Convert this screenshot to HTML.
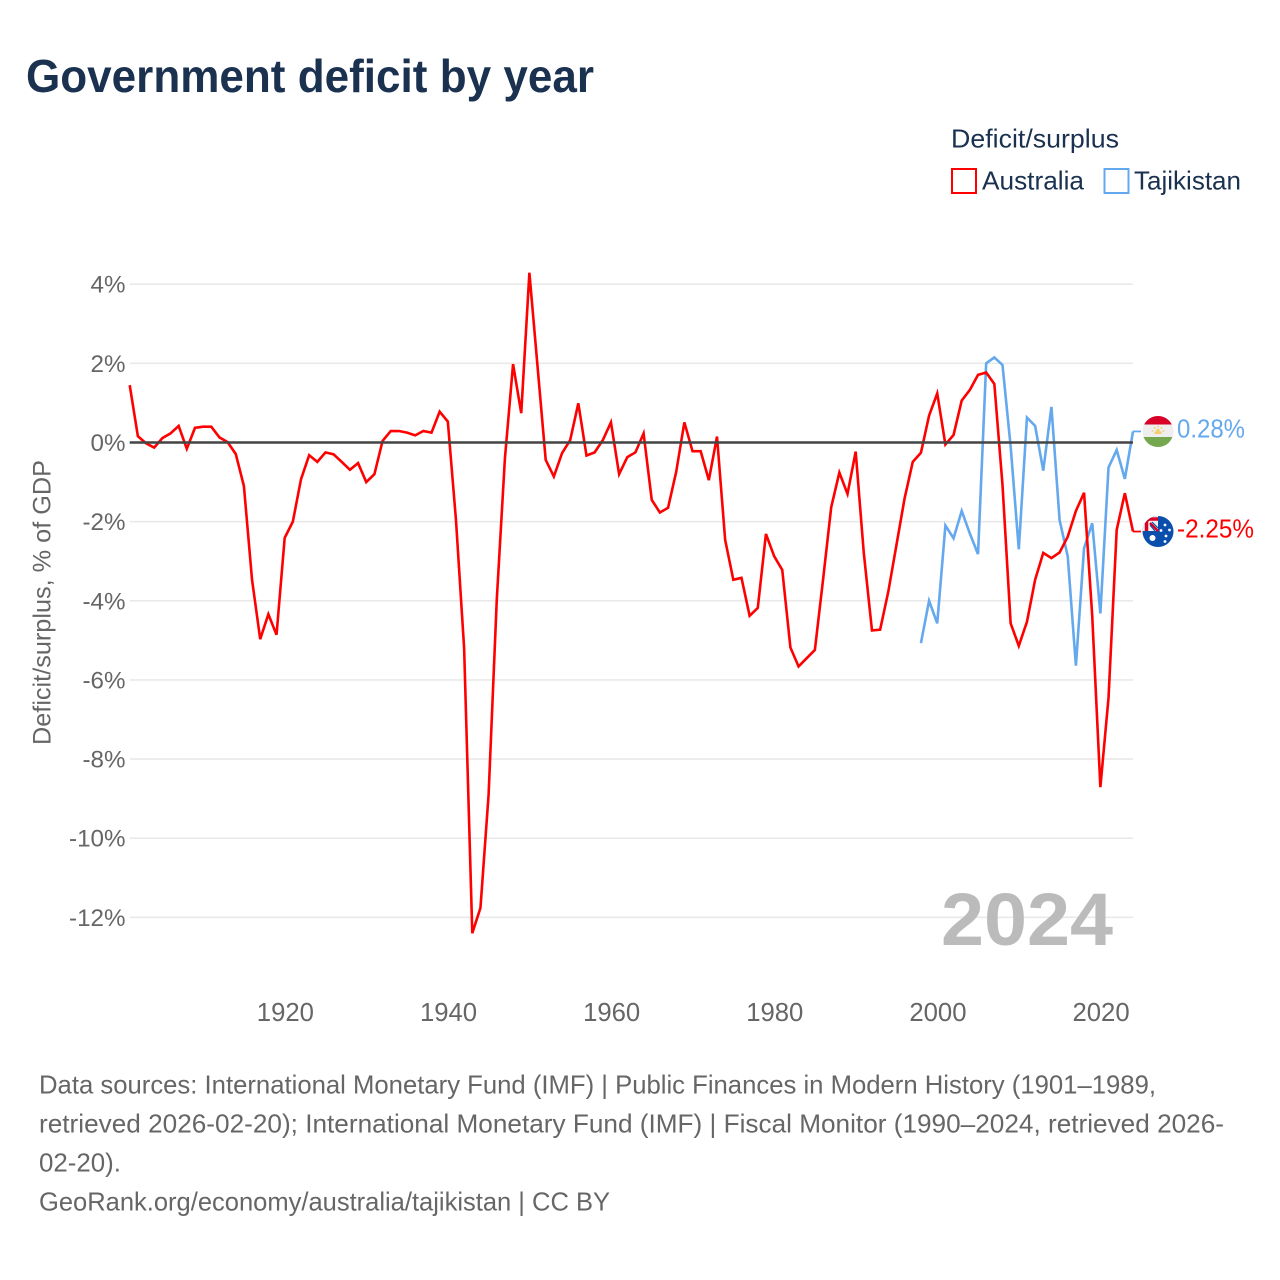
<!DOCTYPE html>
<html lang="en">
<head>
<meta charset="utf-8">
<title>Government deficit by year</title>
<style>
html,body{margin:0;padding:0;background:#fff;}
svg{display:block;font-family:"Liberation Sans",sans-serif;}
</style>
</head>
<body>
<svg id="chart" width="1280" height="1280" viewBox="0 0 1280 1280" xmlns="http://www.w3.org/2000/svg">
  <defs>
    <clipPath id="clip-tj"><circle cx="1158" cy="431.500" r="15.500"/></clipPath>
    <clipPath id="clip-au"><circle cx="1158" cy="531.500" r="15.500"/></clipPath>
  </defs>
  <rect width="1280" height="1280" fill="#fff"/>
  <text x="26" y="92" font-size="46" font-weight="700" fill="#1a3150" textLength="568" lengthAdjust="spacingAndGlyphs">Government deficit by year</text>

  <g>
    <text x="951" y="147.500" font-size="26" fill="#1a3150" textLength="168" lengthAdjust="spacingAndGlyphs">Deficit/surplus</text>
    <rect x="952" y="169" width="24" height="24" fill="none" stroke="#ff0000" stroke-width="2"/>
    <text x="982" y="189.500" font-size="26" fill="#1a3150" textLength="102" lengthAdjust="spacingAndGlyphs">Australia</text>
    <rect x="1104.500" y="169" width="24" height="24" fill="none" stroke="#64a8ee" stroke-width="2"/>
    <text x="1134" y="189.500" font-size="26" fill="#1a3150" textLength="107" lengthAdjust="spacingAndGlyphs">Tajikistan</text>
  </g>

  <g id="grid"></g>
  <g id="yticks"></g>
  <g id="xticks"></g>

  <text transform="translate(50.500 602.500) rotate(-90)" text-anchor="middle" font-size="25" fill="#666" textLength="285" lengthAdjust="spacingAndGlyphs">Deficit/surplus, % of GDP</text>

  <text x="941" y="945" font-size="74" font-weight="700" fill="#bbbbbb" textLength="172" lengthAdjust="spacingAndGlyphs">2024</text>

  <g id="series"></g>

  <g clip-path="url(#clip-tj)">
    <rect x="1142" y="415" width="32" height="9.500" fill="#d80027"/>
    <rect x="1142" y="424.500" width="32" height="12.500" fill="#eeeeee"/>
    <rect x="1142" y="437" width="32" height="11" fill="#75a84e"/>
    <rect x="1154.500" y="431.500" width="7" height="2.500" fill="#f2cf6a"/>
    <circle cx="1158" cy="430.500" r="1.800" fill="#f2cf6a"/>
    <circle cx="1152.500" cy="431" r="0.900" fill="#f2cf6a"/>
    <circle cx="1163.500" cy="431" r="0.900" fill="#f2cf6a"/>
    <circle cx="1154.500" cy="428" r="0.900" fill="#f2cf6a"/>
    <circle cx="1161.500" cy="428" r="0.900" fill="#f2cf6a"/>
    <circle cx="1158" cy="426.800" r="0.900" fill="#f2cf6a"/>
  </g>
  <g clip-path="url(#clip-au)">
    <rect x="1142" y="515" width="32" height="33" fill="#0b4fad"/>
    <rect x="1142" y="515" width="16" height="16" fill="#f2f2f2"/>
    <path d="M1146.500 531V522.500Q1146.500 519 1150 519H1158" fill="none" stroke="#d80027" stroke-width="3.500"/>
    <path d="M1150 523L1158 531" fill="none" stroke="#d80027" stroke-width="2.500"/>
    <path d="M1152 522L1158 528M1150 525L1155 531" fill="none" stroke="#0b4fad" stroke-width="1.200"/>
    <circle cx="1152.500" cy="538" r="3" fill="#ffffff"/>
    <circle cx="1165" cy="525" r="1.400" fill="#ffffff"/>
    <circle cx="1169.500" cy="530" r="1.400" fill="#ffffff"/>
    <circle cx="1161" cy="530.500" r="1.400" fill="#ffffff"/>
    <circle cx="1166" cy="536" r="1.400" fill="#ffffff"/>
    <circle cx="1165" cy="541.500" r="1.400" fill="#ffffff"/>
  </g>

  <text x="1177" y="437.500" font-size="25.500" fill="#64a8ee" textLength="68" lengthAdjust="spacingAndGlyphs">0.28%</text>
  <text x="1177" y="537.500" font-size="25.500" fill="#ff0000" textLength="77" lengthAdjust="spacingAndGlyphs">-2.25%</text>

  <g font-size="26" fill="#666">
    <text x="39" y="1093.500" textLength="1117" lengthAdjust="spacingAndGlyphs">Data sources: International Monetary Fund (IMF) | Public Finances in Modern History (1901–1989,</text>
    <text x="39" y="1132.500" textLength="1185" lengthAdjust="spacingAndGlyphs">retrieved 2026-02-20); International Monetary Fund (IMF) | Fiscal Monitor (1990–2024, retrieved 2026-</text>
    <text x="39" y="1171.500" textLength="82" lengthAdjust="spacingAndGlyphs">02-20).</text>
    <text x="39" y="1210.500" textLength="571" lengthAdjust="spacingAndGlyphs">GeoRank.org/economy/australia/tajikistan | CC BY</text>
  </g>
</svg>
<script>
const yTickValues = [4, 2, 0, -2, -4, -6, -8, -10, -12];
const xTickYears = [1920, 1940, 1960, 1980, 2000, 2020];
const australiaStartYear = 1901;
const australiaValues = [
  1.45, 0.16, -0.02, -0.13, 0.11, 0.23, 0.42, -0.16, 0.37, 0.40,
  0.40, 0.13, 0.01, -0.29, -1.10, -3.47, -4.97, -4.34, -4.86, -2.41,
  -2.00, -0.93, -0.32, -0.49, -0.25, -0.30, -0.49, -0.69, -0.52, -1.00,
  -0.80, 0.04, 0.29, 0.29, 0.25, 0.18, 0.29, 0.25, 0.78, 0.53,
  -1.96, -5.20, -12.40, -11.76, -8.90, -3.98, -0.40, 1.98, 0.74, 4.29,
  1.92, -0.44, -0.86, -0.27, 0.06, 0.99, -0.33, -0.25, 0.06, 0.51,
  -0.80, -0.37, -0.25, 0.23, -1.45, -1.77, -1.65, -0.74, 0.51, -0.22,
  -0.22, -0.95, 0.15, -2.46, -3.47, -3.42, -4.38, -4.18, -2.31, -2.87,
  -3.22, -5.18, -5.66, -5.45, -5.24, -3.47, -1.64, -0.76, -1.30, -0.23,
  -2.80, -4.75, -4.73, -3.77, -2.59, -1.41, -0.49, -0.26, 0.68, 1.24,
  -0.05, 0.19, 1.06, 1.33, 1.71, 1.77, 1.48, -1.07, -4.57, -5.14,
  -4.53, -3.47, -2.79, -2.92, -2.78, -2.38, -1.73, -1.27, -4.38, -8.71,
  -6.45, -2.21, -1.28, -2.25
];
const tajikistanStartYear = 1998;
const tajikistanValues = [
  -5.07, -4.00, -4.57, -2.10, -2.42, -1.73, -2.30, -2.82, 2.00, 2.15,
  1.96, -0.10, -2.70, 0.63, 0.42, -0.71, 0.90, -1.96, -2.88, -5.64,
  -2.67, -2.04, -4.32, -0.63, -0.19, -0.92, 0.28
];

const NS = 'http://www.w3.org/2000/svg';
const plotLeft = 129.7, plotRight = 1133;
const firstYear = 1901, lastYear = 2024;
const zeroY = 442.5, pxPerUnit = 39.57;

function xScale(year) {
  return plotLeft + (year - firstYear) * (plotRight - plotLeft) / (lastYear - firstYear);
}
function yScale(value) {
  return zeroY - value * pxPerUnit;
}
function make(tag, attrs) {
  const el = document.createElementNS(NS, tag);
  Object.keys(attrs).forEach(function (k) { el.setAttribute(k, attrs[k]); });
  return el;
}

const gridGroup = document.getElementById('grid');
const yTickGroup = document.getElementById('yticks');
yTickValues.forEach(function (v) {
  const line = make('line', {
    x1: plotLeft, x2: plotRight, y1: yScale(v), y2: yScale(v),
    stroke: v === 0 ? '#444444' : '#e9e9e9',
    'stroke-width': v === 0 ? 2.4 : 1.6
  });
  
  
  const label = make('text', {
    x: 125.5, y: yScale(v) + 8.5, 'text-anchor': 'end', 'font-size': 24.2, fill: '#666666'
  });
  
  
  label.textContent = v + '%';
  yTickGroup.appendChild(label);
  if (v === 0) {
    document.getElementById('series').after(line);
  } else {
    gridGroup.appendChild(line);
  }
});

const xTickGroup = document.getElementById('xticks');
xTickYears.forEach(function (year) {
  const label = make('text', {
    x: xScale(year) + 0.7, y: 1021, 'text-anchor': 'middle', 'font-size': 25.7, fill: '#666666'
  });
  
  
  label.textContent = year;
  xTickGroup.appendChild(label);
});

function drawSeries(values, startYear, color, lineName, connectorName) {
  const group = document.getElementById('series');
  const pts = values.map(function (v, i) {
    return xScale(startYear + i).toFixed(2) + ',' + yScale(v).toFixed(2);
  }).join(' ');
  const line = make('polyline', {
    points: pts, fill: 'none', stroke: color, 'stroke-width': 2.6, 'stroke-linejoin': 'miter'
  });
  
  
  group.appendChild(line);
  const lastIndex = values.length - 1;
  const endX = xScale(startYear + lastIndex);
  const endY = yScale(values[lastIndex]);
  const connector = make('line', {
    x1: endX, x2: endX + 8, y1: endY, y2: endY, stroke: color, 'stroke-width': 1.8
  });
  
  
  group.appendChild(connector);
}
drawSeries(tajikistanValues, tajikistanStartYear, '#64a8ee', 'line-tajikistan', 'connector-tajikistan');
drawSeries(australiaValues, australiaStartYear, '#ff0000', 'line-australia', 'connector-australia');
</script>
</body>
</html>
